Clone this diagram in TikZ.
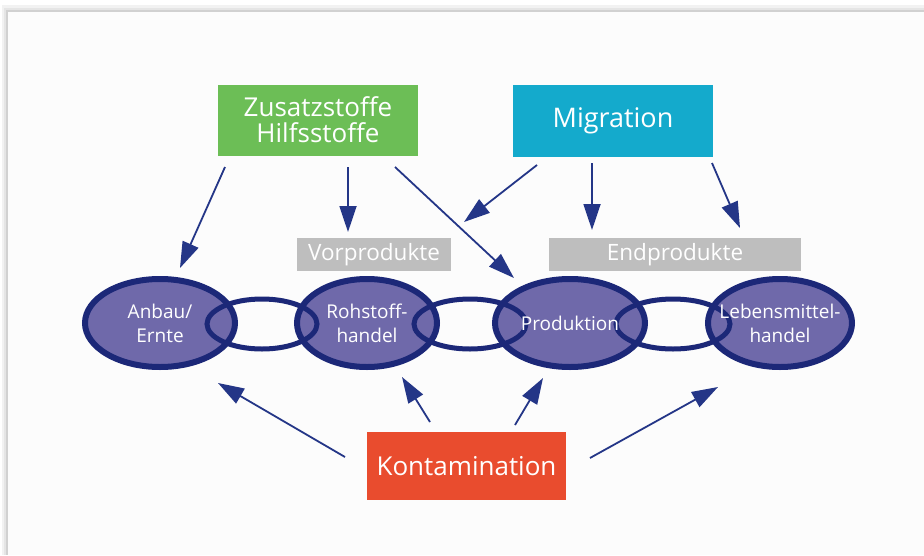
\documentclass[tikz,border=0pt]{standalone}
\usepackage{fontspec}
\setmainfont{Open Sans}
\usetikzlibrary{arrows.meta,shapes.geometric}
\definecolor{zgreen}{RGB}{108,190,86}
\definecolor{mblue}{RGB}{20,170,204}
\definecolor{kred}{RGB}{233,76,46}
\definecolor{lgray}{RGB}{190,190,190}
\definecolor{efill}{RGB}{111,105,170}
\definecolor{enavy}{RGB}{28,40,120}
\definecolor{anavy}{RGB}{36,54,135}
\tikzset{
  box/.style={rectangle, inner sep=0pt, text=white, align=center},
  glabel/.style={rectangle, inner sep=0pt, fill=lgray, text=white, font=\fontsize{22.5}{24}\selectfont},
  link/.style={ellipse, draw=enavy, line width=6pt, fill=efill, inner sep=0pt,
    minimum width=150pt, minimum height=88pt},
  etext/.style={inner sep=0pt, text=white, align=center, font=\fontsize{19}{24}\selectfont},
  ring/.style={ellipse, draw=enavy, line width=5pt, inner sep=0pt, minimum width=110pt, minimum height=50pt},
  arr/.style={draw=anavy, line width=1.8pt, -{Triangle[length=26pt,width=17pt]}}
}
\begin{document}
\begin{tikzpicture}[x=1pt,y=-1pt]
\useasboundingbox (0,0) rectangle (924,555);
% page and shadow
\fill[white] (0,0) rectangle (924,555);
\fill[black!5] (2,5) rectangle (924,555);
\fill[black!10] (4,8) rectangle (924,555);
\fill[black!18] (6,10) rectangle (924,555);
\fill[black!1] (8,12) rectangle (924,555);

% top boxes
\node[box, fill=zgreen, minimum width=200pt, minimum height=71pt, font=\fontsize{26}{26}\selectfont] (zus) at (318,120) {Zusatzstoffe\\Hilfsstoffe};
\node[box, fill=mblue, minimum width=200pt, minimum height=72pt, font=\fontsize{27}{28}\selectfont] (mig) at (613,121) {Migration};
\node[glabel, minimum width=154pt, minimum height=33pt] (vor) at (374,254.5) {Vorprodukte};
\node[glabel, minimum width=252pt, minimum height=33pt] (endp) at (675,254.5) {Endprodukte};

% chain
\node[link] (e1) at (160,323) {};
\node[link, minimum width=140pt] (e2) at (367,323) {};
\node[link] (e3) at (570,323) {};
\node[link, minimum width=144pt] (e4) at (780,323) {};
\node[ring] (r1) at (262,324) {};
\node[ring, minimum width=112pt] (r2) at (470,324) {};
\node[ring, minimum width=114pt] (r3) at (673,324) {};
\node[etext] (t1) at (e1) {Anbau/\\Ernte};
\node[etext] (t2) at (e2) {Rohstoff-\\handel};
\node[etext] (t3) at (e3) {Produktion};
\node[etext] (t4) at (e4) {Lebensmittel-\\handel};

% bottom box
\node[box, fill=kred, minimum width=199pt, minimum height=68pt, font=\fontsize{26}{28}\selectfont] (kon) at (466.5,466) {Kontamination};

% arrow end points
\coordinate (a1s) at (225,167); \coordinate (a1e) at (180,268);
\coordinate (a2s) at (348,167); \coordinate (a2e) at (348,232);
\coordinate (a3s) at (395,167); \coordinate (a3e) at (514,278);
\coordinate (a4s) at (537,165); \coordinate (a4e) at (464,222);
\coordinate (a5s) at (592,163); \coordinate (a5e) at (592,230);
\coordinate (a6s) at (712,163); \coordinate (a6e) at (740,228);
\coordinate (k1s) at (345,457); \coordinate (k1e) at (218,383);
\coordinate (k2s) at (430,422); \coordinate (k2e) at (402,377);
\coordinate (k3s) at (515,425); \coordinate (k3e) at (543,378);
\coordinate (k4s) at (590,458); \coordinate (k4e) at (718,387);

\draw[arr] (a1s) -- (a1e);
\draw[arr] (a2s) -- (a2e);
\draw[arr] (a3s) -- (a3e);
\draw[arr] (a4s) -- (a4e);
\draw[arr] (a5s) -- (a5e);
\draw[arr] (a6s) -- (a6e);
\draw[arr] (k1s) -- (k1e);
\draw[arr] (k2s) -- (k2e);
\draw[arr] (k3s) -- (k3e);
\draw[arr] (k4s) -- (k4e);
\end{tikzpicture}
\end{document}
